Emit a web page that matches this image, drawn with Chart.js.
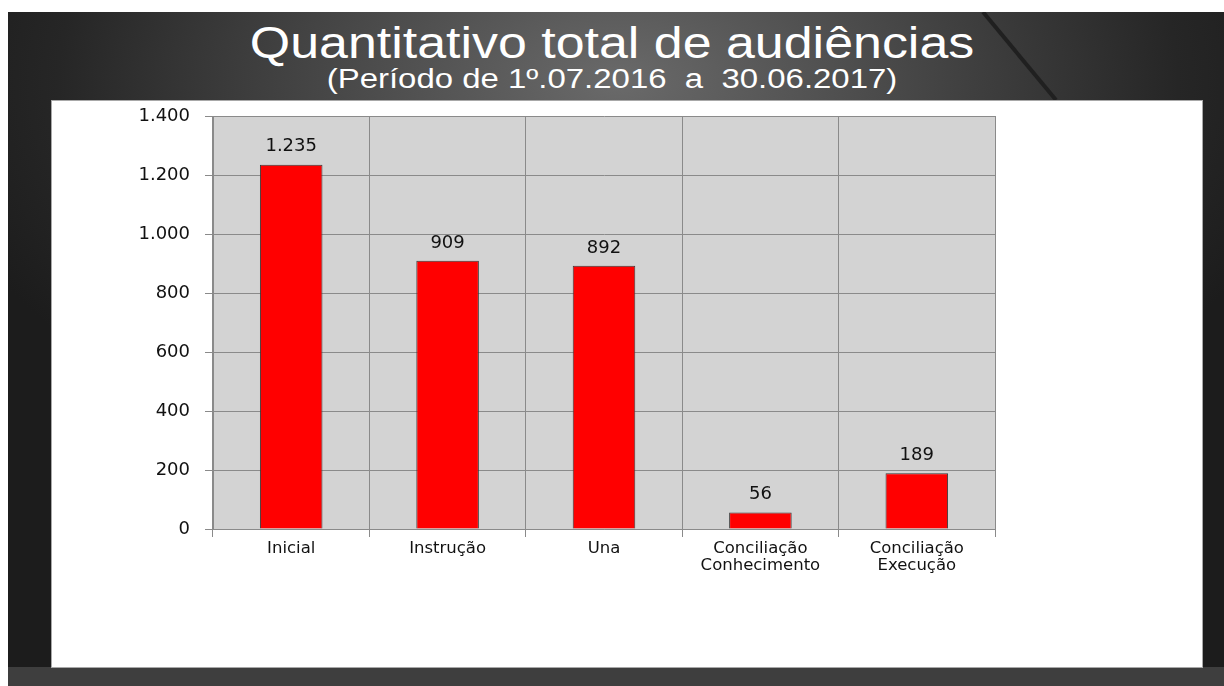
<!DOCTYPE html>
<html>
<head>
<meta charset="utf-8">
<script src="https://cdn.jsdelivr.net/npm/chart.js@4.4.0/dist/chart.umd.min.js"></script>
<style>
  html, body { margin: 0; padding: 0; background: #fff; }
  #slide {
    position: absolute; left: 8px; top: 12px; width: 1216px; height: 674px; overflow: hidden;
    background: radial-gradient(ellipse 700px 420px at 610px 70px, #6a6a6a 0%, #444 45%, #262626 80%, #1c1c1c 100%);
  }
  #bottomStrip { position: absolute; left: 0; top: 655px; width: 1216px; height: 19px; background: #3e3e3e; }
  #diag { position: absolute; left: 0; top: 0; width: 1216px; height: 674px; }
  #panel {
    position: absolute; left: 51px; top: 100px; width: 1150px; height: 566px;
    background: #fff; border: 1px solid #a8a8a8;
  }
  #title, #subtitle {
    position: absolute; left: 0; width: 1224px; text-align: center; color: #fff;
    font-family: "Liberation Sans", Arial, sans-serif; white-space: pre;
  }
  #title { top: 18px; font-size: 44px; transform: scaleX(1.18); }
  #subtitle { top: 64px; font-size: 27px; transform: scaleX(1.22); }
  #wrap { position: absolute; left: 0; top: 0; width: 1224px; height: 686px; }
</style>
</head>
<body>
<div id="slide">
  <svg id="diag" width="1216" height="674">
    <line x1="975" y1="0" x2="1048" y2="88" stroke="#202020" stroke-width="4"/>
    <line x1="1025" y1="655" x2="1005" y2="674" stroke="#262626" stroke-width="4"/>
  </svg>
  <div id="bottomStrip"></div>
</div>
<div id="panel"></div>
<div id="title">Quantitativo total de audiências</div>
<div id="subtitle">(Período de 1º.07.2016  a  30.06.2017)</div>
<div id="wrap"><canvas id="audChart"></canvas></div>
<script>
const categories = ['Inicial', 'Instrução', 'Una', ['Conciliação', 'Conhecimento'], ['Conciliação', 'Execução']];
const audiencias = [1235, 909, 892, 56, 189];
const yTicks = [0, 200, 400, 600, 800, 1000, 1200, 1400];

function fmt(v) {
    return String(v).replace(/\B(?=(\d{3})+(?!\d))/g, '.');
}

const plotBg = {
    id: 'plotBg',
    beforeDraw(chart) {
        const a = chart.chartArea, ctx = chart.ctx;
        ctx.save();
        ctx.fillStyle = '#d3d3d3';
        ctx.fillRect(a.left, a.top, a.right - a.left, a.bottom - a.top);
        ctx.restore();
    }
};

const valueLabels = {
    id: 'valueLabels',
    afterDatasetsDraw(chart) {
        const ctx = chart.ctx;
        const meta = chart.getDatasetMeta(0);
        ctx.save();
        ctx.fillStyle = '#111';
        ctx.font = '18px "DejaVu Sans", sans-serif';
        ctx.textAlign = 'center';
        ctx.textBaseline = 'middle';
        meta.data.forEach((bar, i) => {
            ctx.fillText(fmt(audiencias[i]), bar.x, bar.y - 18);
        });
        ctx.restore();
    }
};

new Chart(document.getElementById('audChart'), {
    type: 'bar',
    data: {
        labels: categories,
        datasets: [{
            data: audiencias,
            backgroundColor: '#ff0000',
            borderColor: '#3a3a3a',
            borderWidth: 1,
            barPercentage: 0.4,
            categoryPercentage: 1.0
        }]
    },
    options: {
        responsive: true,
        maintainAspectRatio: false,
        animation: false,
        layout: { padding: { left: 52, right: 229, top: 116, bottom: 0 } },
        plugins: {
            legend: { display: false },
            tooltip: { enabled: false }
        },
        scales: {
            x: {
                afterFit(scale) { scale.height = 157; },
                grid: { color: '#8a8a8a', lineWidth: 1, tickLength: 8, offset: true },
                border: { color: '#8a8a8a' },
                ticks: {
                    color: '#111', padding: 3, maxRotation: 0, autoSkip: false,
                    font: { family: '"DejaVu Sans", sans-serif', size: 16.5, lineHeight: 1.05 }
                }
            },
            y: {
                min: 0, max: 1400,
                afterFit(scale) { scale.width = 161; },
                afterBuildTicks(scale) { scale.ticks = yTicks.map(v => ({ value: v })); },
                grid: { color: '#8a8a8a', lineWidth: 1, tickLength: 8 },
                border: { color: '#8a8a8a' },
                ticks: {
                    color: '#111', padding: 15,
                    font: { family: '"DejaVu Sans", sans-serif', size: 18 },
                    callback: v => fmt(v)
                }
            }
        }
    },
    plugins: [plotBg, valueLabels]
});
</script>
</body>
</html>
